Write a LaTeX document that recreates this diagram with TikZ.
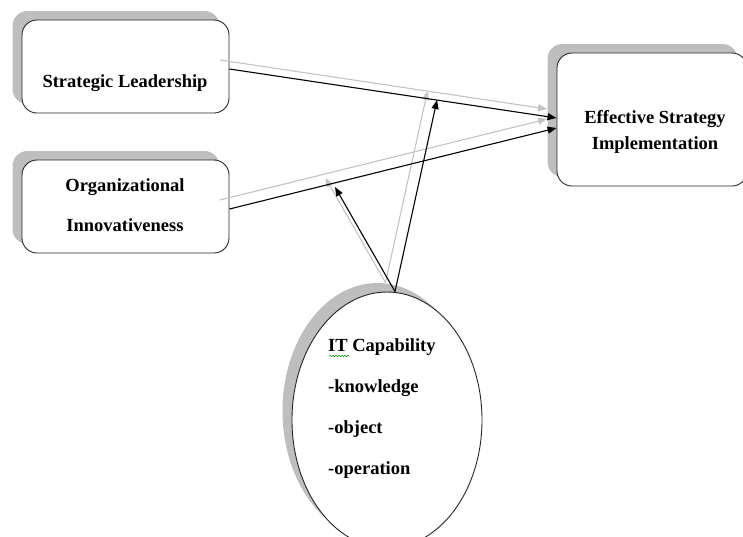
\documentclass[tikz,border=0pt]{standalone}
\usepackage{fontspec}
\setmainfont{Liberation Serif}
\usetikzlibrary{arrows.meta,shadows,shapes.geometric,decorations.pathmorphing}
\definecolor{shadowgray}{HTML}{BEBEBE}
\definecolor{linegray}{HTML}{C4C4C4}
\begin{document}
\begin{tikzpicture}[x=1pt,y=-1pt,
  dshadow/.style={drop shadow={shadow xshift=-9.5pt,shadow yshift=9pt,fill=shadowgray,opacity=1}},
  box/.style={draw=black!85,line width=0.9pt,fill=white,rounded corners=15pt,inner sep=0pt,dshadow},
  oval/.style={draw=black!85,line width=0.9pt,fill=white,ellipse,inner sep=0pt,dshadow},
  lbl/.style={font=\bfseries\fontsize{18.5}{40}\selectfont,inner sep=0pt},
  arr/.style={line width=1.1pt,-{Triangle[length=9pt,width=7pt]}},
  garr/.style={arr,draw=linegray,fill=linegray,transform canvas={xshift=-9.5pt,yshift=9pt}},
  wavy/.style={draw=green!60!black,line width=0.5pt,decorate,decoration={snake,amplitude=0.8pt,segment length=3pt}}
]
\clip (0,0) rectangle (743,536);
\node[box,minimum width=207pt,minimum height=93pt] (sl) at (125.5,66.5) {};
\node[box,minimum width=207pt,minimum height=93pt] (oi) at (125.5,206.5) {};
\node[box,minimum width=190pt,minimum height=133pt] (esi) at (652,119.5) {};
\node[oval,minimum width=190pt,minimum height=256pt] (it) at (387,420) {};

\node[lbl] (slt) at (125,83) {Strategic Leadership};
\node[lbl,align=center] (oit) at (125,205) {Organizational\\Innovativeness};
\node[lbl,align=center,font=\bfseries\fontsize{18.5}{26}\selectfont] (esit) at (655,131.5) {Effective Strategy\\Implementation};
\node[lbl,align=left,anchor=west,font=\bfseries\fontsize{18.5}{41}\selectfont] (itt) at (328,408.5) {IT Capability\\-knowledge\\-object\\-operation};
\coordinate (w1) at (329,356);
\coordinate (w2) at (349,356);
\draw[wavy] (w1) -- (w2);

\coordinate (itTop) at ([xshift=8pt]it.north);
\coordinate (onSL) at (437,100);
\coordinate (onOI) at (335,187);

% shadow arrows
\draw[garr] ([yshift=-2.5pt]sl.east) -- ([yshift=1.5pt]esi.west);
\draw[garr] ([yshift=-2.5pt]oi.east) -- ([yshift=-8.5pt]esi.west);
\draw[garr] (itTop) -- (onSL);
\draw[garr] (itTop) -- (onOI);
% black arrows
\draw[arr] ([yshift=-2.5pt]sl.east) -- ([yshift=1.5pt]esi.west);
\draw[arr] ([yshift=-2.5pt]oi.east) -- ([yshift=-8.5pt]esi.west);
\draw[arr] (itTop) -- (onSL);
\draw[arr] (itTop) -- (onOI);
\end{tikzpicture}
\end{document}
